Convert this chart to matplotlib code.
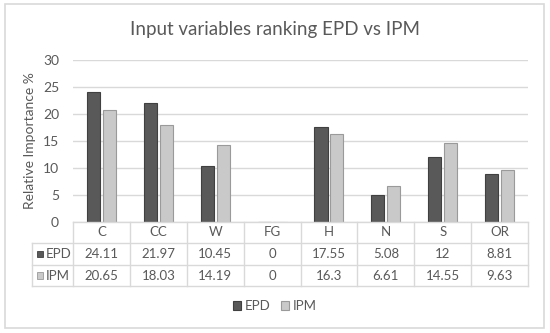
import matplotlib.pyplot as plt
import numpy as np
from matplotlib.patches import Rectangle
from matplotlib.lines import Line2D
from matplotlib.transforms import blended_transform_factory

categories = ["C", "CC", "W", "FG", "H", "N", "S", "OR"]
epd = [24.11, 21.97, 10.45, 0, 17.55, 5.08, 12, 8.81]
ipm = [20.65, 18.03, 14.19, 0, 16.3, 6.61, 14.55, 9.63]
epd_labels = ["24.11", "21.97", "10.45", "0", "17.55", "5.08", "12", "8.81"]
ipm_labels = ["20.65", "18.03", "14.19", "0", "16.3", "6.61", "14.55", "9.63"]

plt.rcParams['font.family'] = ['Lato', 'DejaVu Sans']
txt = '#595959'
grid_c = '#d9d9d9'
dark = '#595959'
light = '#c9c9c9'

W, H = 550, 333
fig = plt.figure(figsize=(5.5, 3.33), dpi=100)
ax = fig.add_axes([73 / W, 1 - 222 / H, (528 - 73) / W, (222 - 60) / H])

# outer chart border
fig.add_artist(Rectangle((5 / W, 1 - 328 / H), 539 / W, 324 / H, transform=fig.transFigure,
                         fill=False, edgecolor=grid_c, linewidth=1.2))

fig.text(275 / W, 1 - 30 / H, "Input variables ranking EPD vs IPM", ha='center', va='center',
         fontsize=13.5, color=txt)

x = np.arange(len(categories))
bw = 0.23
b1 = ax.bar(x - 0.14, epd, bw, color=dark, edgecolor='#404040', linewidth=0.8, label='EPD')
b2 = ax.bar(x + 0.14, ipm, bw, color=light, edgecolor='#9a9a9a', linewidth=0.8, label='IPM')

ax.set_xlim(-0.5, len(categories) - 0.5)
ax.set_ylim(0, 30)
ax.set_yticks(np.arange(0, 31, 5))
ax.yaxis.grid(True, color=grid_c, linewidth=1)
ax.set_axisbelow(True)
for s in ax.spines.values():
    s.set_visible(False)
ax.set_xticks([])
ax.tick_params(axis='y', length=0, labelsize=10, labelcolor=txt, pad=10)
ax.set_ylabel("Relative Importance %", fontsize=10, color=txt, labelpad=5)

# data table under the bars
tr = blended_transform_factory(ax.transData, ax.transAxes)
ah = 162.0
r0, r1, r2, r3 = 0, -21 / ah, -43 / ah, -64 / ah
xl = -0.5 - 41 / 56.875
n = len(categories)
lk = dict(color=grid_c, linewidth=1, transform=tr, clip_on=False)
ax.add_line(Line2D([-0.5, n - 0.5], [r0, r0], **lk))
for yy in (r1, r2, r3):
    ax.add_line(Line2D([xl, n - 0.5], [yy, yy], **lk))
for i in range(n + 1):
    ax.add_line(Line2D([i - 0.5, i - 0.5], [r0, r3], **lk))
ax.add_line(Line2D([xl, xl], [r1, r3], **lk))

tk = dict(transform=tr, ha='center', va='center', fontsize=9.5, color=txt, clip_on=False)
for i, c in enumerate(categories):
    ax.text(i, (r0 + r1) / 2, c, **tk)
    ax.text(i, (r1 + r2) / 2, epd_labels[i], **tk)
    ax.text(i, (r2 + r3) / 2, ipm_labels[i], **tk)

for yy, name, col, ec in [((r1 + r2) / 2, "EPD", dark, '#404040'), ((r2 + r3) / 2, "IPM", light, '#9a9a9a')]:
    ax.add_patch(Rectangle((xl + 0.09, yy - 0.02), 0.1, 0.04, transform=tr, clip_on=False,
                           facecolor=col, edgecolor=ec, linewidth=0.6))
    ax.text(xl + 0.24, yy, name, transform=tr, ha='left', va='center', fontsize=9.5, color=txt,
            clip_on=False)

fig.legend(handles=[b1, b2], labels=['EPD', 'IPM'], loc='center', bbox_to_anchor=(275 / W, 1 - 306 / H),
           ncol=2, frameon=False, fontsize=9.5, labelcolor=txt, handlelength=0.6, handleheight=0.6,
           handletextpad=0.3, columnspacing=0.8)

fig.savefig("out.png", dpi=100)
